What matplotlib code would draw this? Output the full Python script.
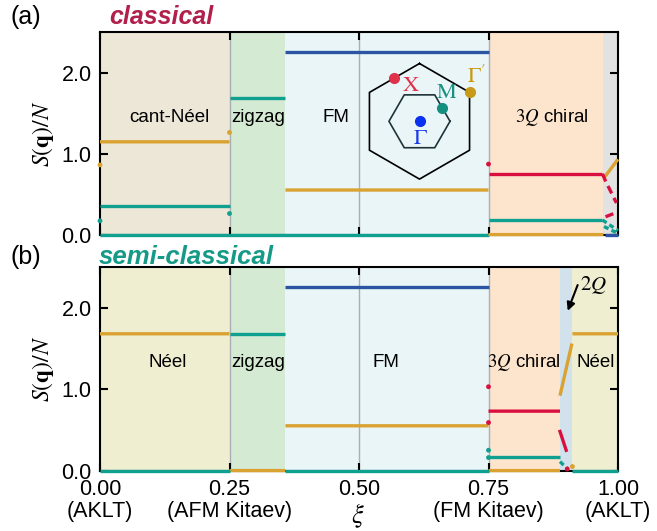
import numpy as np
import matplotlib.pyplot as plt

plt.rcParams['font.family'] = ['Liberation Sans', 'DejaVu Sans']
plt.rcParams['mathtext.fontset'] = 'stix'

nan = np.nan

# colours of the four momenta
c_gamma = '#2b55a3'
c_gp = '#d9a231'
c_m = '#10a08f'
c_x = '#d9103f'

# phase regions, (a) classical
bounds_a = [0.0, 0.25, 0.358, 0.75, 0.972, 1.0]
bg_a = ['#ece7d6', '#d5ead3', '#eaf5f8', '#fde4cd', '#e2e2e2']
names_a = ['cant-Néel', 'zigzag', 'FM', r'$3Q$ chiral']
name_x_a = [0.133, 0.305, 0.455, 0.872]
name_y_a = 1.44

# phase regions, (b) semi-classical
bounds_b = [0.0, 0.25, 0.358, 0.75, 0.888, 0.912, 1.0]
bg_b = ['#f0eed0', '#d5ead3', '#eaf5f8', '#fde4cd', '#d2e2ed', '#f0eed0']
names_b = ['Néel', 'zigzag', 'FM', r'$3Q$ chiral', 'Néel']
name_x_b = [0.13, 0.305, 0.552, 0.818, 0.957]
name_y_b = 1.33

# S(q)/N, classical (nan separates pieces)
a_gamma_x = [0.358, 0.75, nan, 0.975, 1.0]
a_gamma_y = [2.25, 2.25, nan, 0.0, 0.0]
a_gp_x = [0.0, 0.25, nan, 0.358, 0.75, nan, 0.75, 0.972, nan, 0.973, 1.0]
a_gp_y = [1.145, 1.145, nan, 0.55, 0.55, nan, 0.0, 0.0, nan, 0.70, 0.93]
a_m_x = [0.0, 0.75, nan, 0.0, 0.25, nan, 0.25, 0.358, nan, 0.75, 0.970]
a_m_y = [0.0, 0.0, nan, 0.35, 0.35, nan, 1.685, 1.685, nan, 0.18, 0.18]
a_x_x = [0.75, 0.970]
a_x_y = [0.75, 0.75]
# noisy tail close to xi = 1 (dashed)
a_x_tail_x = [0.970, 0.976, 0.997, nan, 0.976, 1.0]
a_x_tail_y = [0.75, 0.66, 0.39, nan, 0.22, 0.28]
a_m_tail_x = [0.970, 1.0, nan, 0.973, 0.998]
a_m_tail_y = [0.18, 0.05, nan, 0.10, 0.02]
# isolated points at the transitions
a_dot_x = [0.0, 0.25, 0.25, 0.75, 0.0]
a_dot_y = [0.86, 1.26, 0.26, 0.87, 0.17]
a_dot_c = [c_gp, c_gp, c_m, c_x, c_m]

# S(q)/N, semi-classical
b_gamma_x = [0.358, 0.75]
b_gamma_y = [2.25, 2.25]
b_gp_x = [0.0, 0.25, nan, 0.25, 0.358, nan, 0.358, 0.75, nan, 0.75, 0.888,
          nan, 0.888, 0.911, nan, 0.912, 1.0]
b_gp_y = [1.68, 1.68, nan, 0.0, 0.0, nan, 0.55, 0.55, nan, 0.0, 0.0,
          nan, 0.92, 1.56, nan, 1.68, 1.68]
b_m_x = [0.0, 0.25, nan, 0.25, 0.358, nan, 0.358, 0.75, nan, 0.75, 0.888,
         nan, 0.912, 1.0]
b_m_y = [0.0, 0.0, nan, 1.68, 1.68, nan, 0.0, 0.0, nan, 0.17, 0.17,
         nan, 0.0, 0.0]
b_m_tail_x = [0.888, 0.903]
b_m_tail_y = [0.11, 0.02]
b_x_x = [0.75, 0.888, nan, 0.887, 0.901]
b_x_y = [0.73, 0.73, nan, 0.50, 0.23]
b_dot_x = [0.75, 0.75, 0.75, 0.75, 0.912, 0.902]
b_dot_y = [1.03, 0.59, 0.25, 0.16, 0.05, 0.02]
b_dot_c = [c_x, c_x, c_m, c_m, c_gp, c_x]

xticks = [0.0, 0.25, 0.5, 0.75, 1.0]
xticklabels = ['0.00\n(AKLT)', '0.25\n(AFM Kitaev)', '0.50',
               '0.75\n(FM Kitaev)', '1.00\n(AKLT)']
yticks = [0.0, 1.0, 2.0]

fig = plt.figure(figsize=(6.57, 5.31), dpi=100)
W, H = 657, 531


def px_axes(x0, y0, x1, y1):
    return fig.add_axes([x0 / W, 1 - y1 / H, (x1 - x0) / W, (y1 - y0) / H])


ax_a = px_axes(100, 32, 618, 235)
ax_b = px_axes(100, 267, 618, 471)


def setup(ax, bounds, bgs, names, name_x, name_y):
    for i, c in enumerate(bgs):
        ax.axvspan(bounds[i], bounds[i + 1], color=c, lw=0, zorder=0)
    for v in [0.25, 0.5, 0.75]:
        ax.axvline(v, color='#a9b0b3', lw=1.0, zorder=1)
    for n, xx in zip(names, name_x):
        ax.text(xx, name_y, n, ha='center', va='center', fontsize=13.5)
    ax.set_xlim(0, 1)
    ax.set_ylim(-0.005, 2.5)
    ax.set_xticks(xticks)
    ax.set_yticks(yticks)
    ax.set_yticklabels(['0.0', '1.0', '2.0'])
    ax.tick_params(direction='in', top=True, right=True, length=6, width=1.5,
                   labelsize=15.5, pad=6)
    for s in ax.spines.values():
        s.set_linewidth(1.5)
    ax.set_ylabel(r'$S(\mathbf{q})/N$', fontsize=17, labelpad=4)


def draw(ax, x, y, c, ls='-'):
    ax.plot(x, y, color=c, lw=2.4, ls=ls, solid_capstyle='butt',
            clip_on=False, zorder=3)


setup(ax_a, bounds_a, bg_a, names_a, name_x_a, name_y_a)
setup(ax_b, bounds_b, bg_b, names_b, name_x_b, name_y_b)

draw(ax_a, a_m_x, a_m_y, c_m)
draw(ax_a, a_gp_x, a_gp_y, c_gp)
draw(ax_a, a_gamma_x, a_gamma_y, c_gamma)
draw(ax_a, a_x_x, a_x_y, c_x)
draw(ax_a, a_x_tail_x, a_x_tail_y, c_x, ls=(0, (2.5, 1.5)))
draw(ax_a, a_m_tail_x, a_m_tail_y, c_m, ls=(0, (1.5, 1)))
ax_a.scatter(a_dot_x, a_dot_y, s=6, c=a_dot_c, zorder=3, clip_on=False)
ax_a.set_xticklabels([])

draw(ax_b, b_gp_x, b_gp_y, c_gp)
draw(ax_b, b_m_x, b_m_y, c_m)
draw(ax_b, b_m_tail_x, b_m_tail_y, c_m, ls=(0, (1.5, 1)))
draw(ax_b, b_gamma_x, b_gamma_y, c_gamma)
draw(ax_b, b_x_x, b_x_y, c_x)
ax_b.scatter(b_dot_x, b_dot_y, s=6, c=b_dot_c, zorder=3, clip_on=False)
ax_b.set_xticklabels(xticklabels, linespacing=1.05)
fig.text(358 / W, 1 - 516 / H, r'$\xi$', fontsize=19, ha='center',
         va='center')

# 2Q arrow
ax_b.annotate('', xy=(0.901, 1.93), xytext=(0.924, 2.31),
              arrowprops=dict(arrowstyle='-|>', color='k', lw=1.5,
                              mutation_scale=12), zorder=4)
ax_b.text(0.952, 2.28, r'$2Q$', ha='center', va='center', fontsize=15)

# panel tags and titles
fig.text(10 / W, 1 - 17 / H, '(a)', fontsize=18, va='center')
fig.text(109 / W, 1 - 17 / H, 'classical', fontsize=18, va='center',
         fontweight='bold', style='italic', color='#b0204a')
fig.text(10 / W, 1 - 257 / H, '(b)', fontsize=18, va='center')
fig.text(99 / W, 1 - 257 / H, 'semi-classical', fontsize=18.5, va='center',
         fontweight='bold', style='italic', color='#159a88')

# Brillouin-zone inset
R = 57.8
cx, cy = 419.5, 121.3
half = 70
ins = px_axes(cx - half, cy - half, cx + half, cy + half)
ins.set_xlim(-half / R, half / R)
ins.set_ylim(-half / R, half / R)
ins.set_aspect('equal')
ins.axis('off')
ins.patch.set_visible(False)
ang_out = np.deg2rad(np.arange(90, 451, 60))
ins.plot(np.cos(ang_out), np.sin(ang_out), color='k', lw=1.2)
r_in = 0.528
ang_in = np.deg2rad(np.arange(0, 361, 60))
ins.plot(r_in * np.cos(ang_in), r_in * np.sin(ang_in), color='#1e3338', lw=1.2)

pt_gamma = (0.0, 0.0)
pt_m = (r_in * (1 + np.cos(np.pi / 3)) / 2, r_in * np.sin(np.pi / 3) / 2)
pt_x = ((np.cos(np.pi / 2) + np.cos(5 * np.pi / 6)) / 2,
        (np.sin(np.pi / 2) + np.sin(5 * np.pi / 6)) / 2)
pt_gp = (np.cos(np.pi / 6), np.sin(np.pi / 6))
for p, c in [(pt_gamma, '#0a30f0'), (pt_m, '#149080'),
             (pt_x, '#e0304a'), (pt_gp, '#c89a18')]:
    ins.plot(*p, 'o', color=c, ms=7, zorder=3)
ins.text(0.01, -0.3, r'$\Gamma$', color='#1a3ae8', fontsize=16,
         ha='center', va='center')
ins.text(0.47, 0.5, r'$\mathrm{M}$', color='#1a9080', fontsize=16,
         ha='center', va='center')
ins.text(-0.15, 0.62, r'$\mathrm{X}$', color='#e03048', fontsize=16,
         ha='center', va='center')
ins.text(0.98, 0.78, r"$\Gamma'$", color='#c8980e', fontsize=16,
         ha='center', va='center')

fig.savefig('out.png', dpi=100)
